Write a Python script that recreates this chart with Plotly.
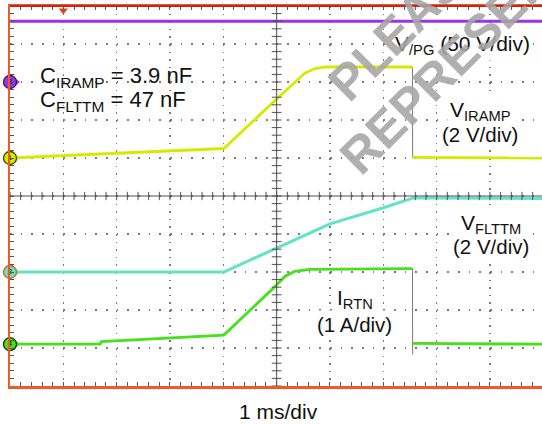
import plotly.graph_objects as go

# ---------------- data (time in ms, 1 ms/div) ----------------
# Ch3: V_PG (50 V/div)
t_pg = [0.0, 9.98]
v_pg = [80.0, 80.0]

# Ch1: V_IRAMP (2 V/div) - before and after the turn-off edge
t_iramp_hi = [0.0, 4.01, 5.0, 5.53, 5.72, 5.91, 7.547]
v_iramp_hi = [0.0, 0.5, 3.1, 4.47, 4.71, 4.79, 4.79]
t_iramp_lo = [7.55, 9.98]
v_iramp_lo = [0.03, 0.0]

# Ch2: V_FLTTM (2 V/div)
t_flttm = [0.0, 4.01, 4.875, 6.0, 6.99, 7.56, 9.98]
v_flttm = [0.0, 0.0, 1.1, 2.53, 3.37, 3.9, 3.87]

# Ch4: I_RTN (1 A/div)
t_irtn_hi = [0.0, 1.69, 1.71, 4.01, 4.875, 5.16, 5.34, 5.63, 7.547]
i_irtn_hi = [0.0, 0.0, 0.066, 0.24, 1.39, 1.79, 1.92, 1.97, 1.99]
t_irtn_lo = [7.55, 9.98]
i_irtn_lo = [0.02, 0.0]
i_irtn_edge_min = -0.27

# channel setup: (scale per div, ground position in divisions from bottom)
ch_pg = (50.0, 8.0)
ch_iramp = (2.0, 6.0)
ch_flttm = (2.0, 3.0)
ch_irtn = (1.0, 1.1)

trigger_t = 1.0

# ---------------- styling ----------------
W, H = 542, 424
L, T, B, R = 10, 6, 38, 0
DIV_PX = 53.33
X_MAX = (W - L - R) / DIV_PX

C_PG = "#9a33ea"
C_IRAMP = "#d6ea00"
C_FLTTM = "#62e2c6"
C_IRTN = "#46e01c"
C_EDGE = "#7a7a7a"
FONT = "Liberation Sans, Arial, Helvetica, sans-serif"


def to_div(vals, ch):
    scale, gnd = ch
    return [gnd + v / scale for v in vals]


fig = go.Figure()

# transition edges (thin gray)
fig.add_trace(go.Scatter(x=[t_iramp_hi[-1], t_iramp_lo[0]],
                         y=to_div([v_iramp_hi[-1], v_iramp_lo[0]], ch_iramp),
                         mode="lines", line=dict(color=C_EDGE, width=1), hoverinfo="skip"))
fig.add_trace(go.Scatter(x=[t_irtn_hi[-1], t_irtn_lo[0]],
                         y=to_div([i_irtn_hi[-1], i_irtn_edge_min], ch_irtn),
                         mode="lines", line=dict(color=C_EDGE, width=1), hoverinfo="skip"))


def add_line(t, v, ch, color, width=2.8):
    fig.add_trace(go.Scatter(x=t, y=to_div(v, ch), mode="lines",
                             line=dict(color=color, width=width), hoverinfo="skip"))


add_line(t_pg, v_pg, ch_pg, C_PG, 3)
add_line(t_flttm, v_flttm, ch_flttm, C_FLTTM, 3)
add_line(t_irtn_hi, i_irtn_hi, ch_irtn, C_IRTN)
add_line(t_irtn_lo, i_irtn_lo, ch_irtn, C_IRTN)
add_line(t_iramp_hi, v_iramp_hi, ch_iramp, C_IRAMP)
add_line(t_iramp_lo, v_iramp_lo, ch_iramp, C_IRAMP)

# centre graticule ticks
minor_x = [i * 0.2 for i in range(0, 51) if i * 0.2 <= X_MAX]
minor_y = [i * 0.2 for i in range(0, 51)]
fig.add_trace(go.Scatter(x=minor_x, y=[5] * len(minor_x),
                         mode="markers", hoverinfo="skip",
                         marker=dict(symbol="line-ns", size=6, line=dict(color="#505050", width=1))))
fig.add_trace(go.Scatter(x=[5] * len(minor_y), y=minor_y, mode="markers", hoverinfo="skip",
                         marker=dict(symbol="line-ew", size=7, line=dict(color="#505050", width=1))))

# channel ground markers
grounds = [ch_pg[1], ch_iramp[1], ch_flttm[1], ch_irtn[1]]
fills = [C_PG, C_IRAMP, C_FLTTM, C_IRTN]
outlines = ["#3a1a50", "#404000", "#e8561e", "#1a3a10"]
fig.add_trace(go.Scatter(x=[0.13] * 4, y=grounds, mode="markers", hoverinfo="skip", cliponaxis=False,
                         marker=dict(symbol="triangle-right", size=6, color=fills)))
fig.add_trace(go.Scatter(x=[0] * 4, y=grounds, mode="markers+text", hoverinfo="skip", cliponaxis=False,
                         text=["3", "1", "2", "4"], textposition="middle center",
                         textfont=dict(size=8, color="#111", family=FONT),
                         marker=dict(symbol="circle", size=13, color=fills,
                                     line=dict(color=outlines, width=1.3))))
# trigger position marker
fig.add_trace(go.Scatter(x=[trigger_t], y=[9.88], mode="markers", hoverinfo="skip", cliponaxis=False,
                         marker=dict(symbol="triangle-down", size=8, color="#e8401c")))

axis_common = dict(showticklabels=False, zeroline=False, showgrid=True,
                   gridcolor="#7a7a7a", gridwidth=1.6,
                   showline=True, linecolor="#ee5a22",
                   ticks="inside", ticklen=4, tickcolor="#555", tickwidth=1,
                   fixedrange=True, automargin=False)

fig.update_xaxes(range=[0, X_MAX], dtick=1, tick0=0, griddash="1.6px,6px",
                 linewidth=2.5, mirror="ticks",
                 minor=dict(dtick=0.2, ticks="inside", ticklen=4, tickcolor="#555", showgrid=False),
                 **axis_common)
fig.update_yaxes(range=[0, 10], dtick=1, tick0=0, griddash="1.6px,9.07px",
                 linewidth=2,
                 minor=dict(dtick=0.2, ticks="inside", ticklen=4, tickcolor="#555", showgrid=False),
                 **axis_common)

PW = W - L - R
PH = H - T - B


def px(x, y):
    return dict(x=(x - L) / PW, y=(H - B - y) / PH, xref="paper", yref="paper")


shapes = [
    # white backing behind the capacitor note (hides grid dots, stays under traces)
    dict(type="rect", xref="paper", yref="paper",
         x0=(37 - L) / PW, x1=(198 - L) / PW, y0=(H - B - 114) / PH, y1=(H - B - 62) / PH,
         fillcolor="white", line=dict(width=0), layer="between"),
    dict(type="line", xref="x", yref="paper", x0=5, x1=5, y0=0, y1=1,
         line=dict(color="#505050", width=1), layer="above"),
    dict(type="line", xref="paper", yref="y", x0=0, x1=1, y0=5, y1=5,
         line=dict(color="#505050", width=1), layer="above"),
    dict(type="line", xref="paper", yref="paper", x0=0, x1=1, y0=1, y1=1,
         line=dict(color="#cc2218", width=2), layer="above"),
]


def ann(text, x, y, size=21, xanchor="center", yanchor="middle", color="#111", bg="white", pad=2, **kw):
    d = dict(text=text, showarrow=False, xanchor=xanchor, yanchor=yanchor,
             font=dict(family=FONT, size=size, color=color), borderpad=pad if bg else 0)
    if bg:
        d["bgcolor"] = bg
    d.update(px(x, y))
    d.update(kw)
    return d


WM = "rgba(165,165,165,0.88)"
annotations = [
    ann("C<sub>IRAMP</sub> = 3.9 nF", 39, 77, size=22, xanchor="left", bg=None),
    ann("C<sub>FLTTM</sub> = 47 nF", 39, 101, size=22, xanchor="left", bg=None),
    ann("V<sub>/PG</sub> (50 V/div)", 533, 45, size=21, xanchor="right"),
    # lower lines first so that the subscripts of the upper lines stay on top
    ann("(2 V/div)", 480, 135, size=20.5),
    ann("V<sub>IRAMP</sub>", 480, 111),
    ann("(2 V/div)", 491, 246, size=20.5),
    ann("V<sub>FLTTM</sub>", 491, 224),
    ann("(1 A/div)", 354, 324, size=20.5),
    ann("I<sub>RTN</sub>", 355, 299),
    ann("1 ms/div", 278, 411, size=21, bg=None),
    # watermark
    ann("<b>PLEASE</b>", 408, 21, size=50, color=WM, bg=None, textangle=-45),
    ann("<b>REPRESENTATIVE</b>", 506, 8, size=50, color=WM, bg=None, textangle=-45),
]

fig.update_layout(width=W, height=H, margin=dict(l=L, r=R, t=T, b=B, pad=0),
                  paper_bgcolor="white", plot_bgcolor="white", showlegend=False,
                  shapes=shapes, annotations=annotations)

fig.write_html("out.html", config={"displayModeBar": False, "staticPlot": True},
               post_script="document.body.style.margin='0';document.body.style.padding='0';")
